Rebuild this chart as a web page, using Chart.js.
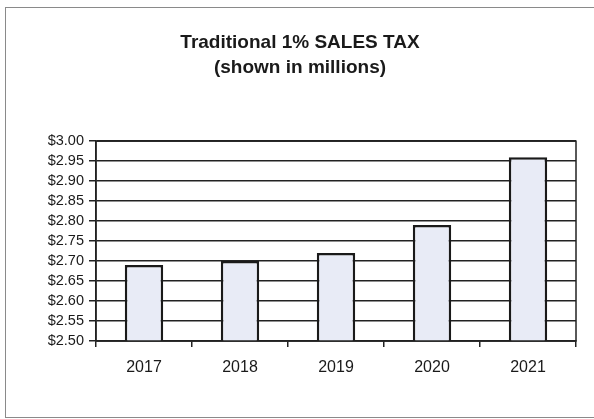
<!DOCTYPE html>
<html lang="en">
<head>
    <meta charset="UTF-8">
    <title>Traditional 1% Sales Tax</title>
    <script src="https://cdn.jsdelivr.net/npm/chart.js@4.4.0/dist/chart.umd.min.js"></script>
    <style>
        html, body { margin: 0; padding: 0; background: #fff; }
        #wrap { position: relative; width: 594px; height: 419px; overflow: hidden; }
        #frame {
            position: absolute; left: 5px; top: 7px; width: 600px; height: 411px;
            border: 1px solid #8a8a8a; box-sizing: border-box;
        }
        #chart { position: absolute; left: 0; top: 0; }
    </style>
</head>
<body>
    <div id="wrap">
        <div id="frame"></div>
        <canvas id="chart" width="594" height="419"></canvas>
    </div>

    <script>
        // Yearly sales tax receipts, in millions of dollars
        const years = ['2017', '2018', '2019', '2020', '2021'];
        const salesTax = [2.69, 2.70, 2.72, 2.79, 2.96];
        const titleLines = ['Traditional 1% SALES TAX', '(shown in millions)'];
        const yMin = 2.5;
        const yMax = 3.0;
        const yStep = 0.05;

        // outline the plot area (right edge has no axis of its own)
        const plotFrame = {
            id: 'plotFrame',
            afterDraw(chart) {
                const a = chart.chartArea;
                const ctx = chart.ctx;
                ctx.save();
                ctx.strokeStyle = '#222';
                ctx.lineWidth = 1.5;
                ctx.strokeRect(a.left, a.top, a.right - a.left, a.bottom - a.top);
                ctx.restore();
            }
        };

        Chart.defaults.font.family = '"Liberation Sans", Arial, sans-serif';
        Chart.defaults.color = '#1a1a1a';

        new Chart(document.getElementById('chart'), {
            type: 'bar',
            data: {
                labels: years,
                datasets: [{
                    data: salesTax,
                    backgroundColor: '#e8ebf6',
                    borderColor: '#1a1a1a',
                    borderWidth: 2.5,
                    borderSkipped: false,
                    categoryPercentage: 1,
                    barPercentage: 0.4
                }]
            },
            options: {
                responsive: false,
                animation: false,
                layout: { padding: { left: 24, right: 18, top: 0, bottom: 0 } },
                plugins: {
                    legend: { display: false },
                    tooltip: { enabled: false },
                    title: {
                        display: true,
                        text: titleLines,
                        color: '#1a1a1a',
                        font: { size: 19, weight: 'bold', lineHeight: 1.32 },
                        padding: { top: 30, bottom: 61 }
                    }
                },
                scales: {
                    x: {
                        afterFit(scale) { scale.height = 78; },
                        grid: {
                            offset: true,
                            drawOnChartArea: false,
                            color: '#222',
                            lineWidth: 1.5,
                            tickLength: 6
                        },
                        border: { color: '#222', width: 1.5 },
                        ticks: { font: { size: 16 }, padding: 11, color: '#1a1a1a' }
                    },
                    y: {
                        min: yMin,
                        max: yMax,
                        afterFit(scale) { scale.width = 72; },
                        grid: {
                            color: '#222',
                            lineWidth: 1.5,
                            tickLength: 7
                        },
                        border: { color: '#222', width: 1.5 },
                        ticks: {
                            stepSize: yStep,
                            autoSkip: false,
                            padding: 5,
                            font: { size: 14.5 },
                            color: '#1a1a1a',
                            callback: v => '$' + Number(v).toFixed(2)
                        }
                    }
                }
            },
            plugins: [plotFrame]
        });
    </script>
</body>
</html>
